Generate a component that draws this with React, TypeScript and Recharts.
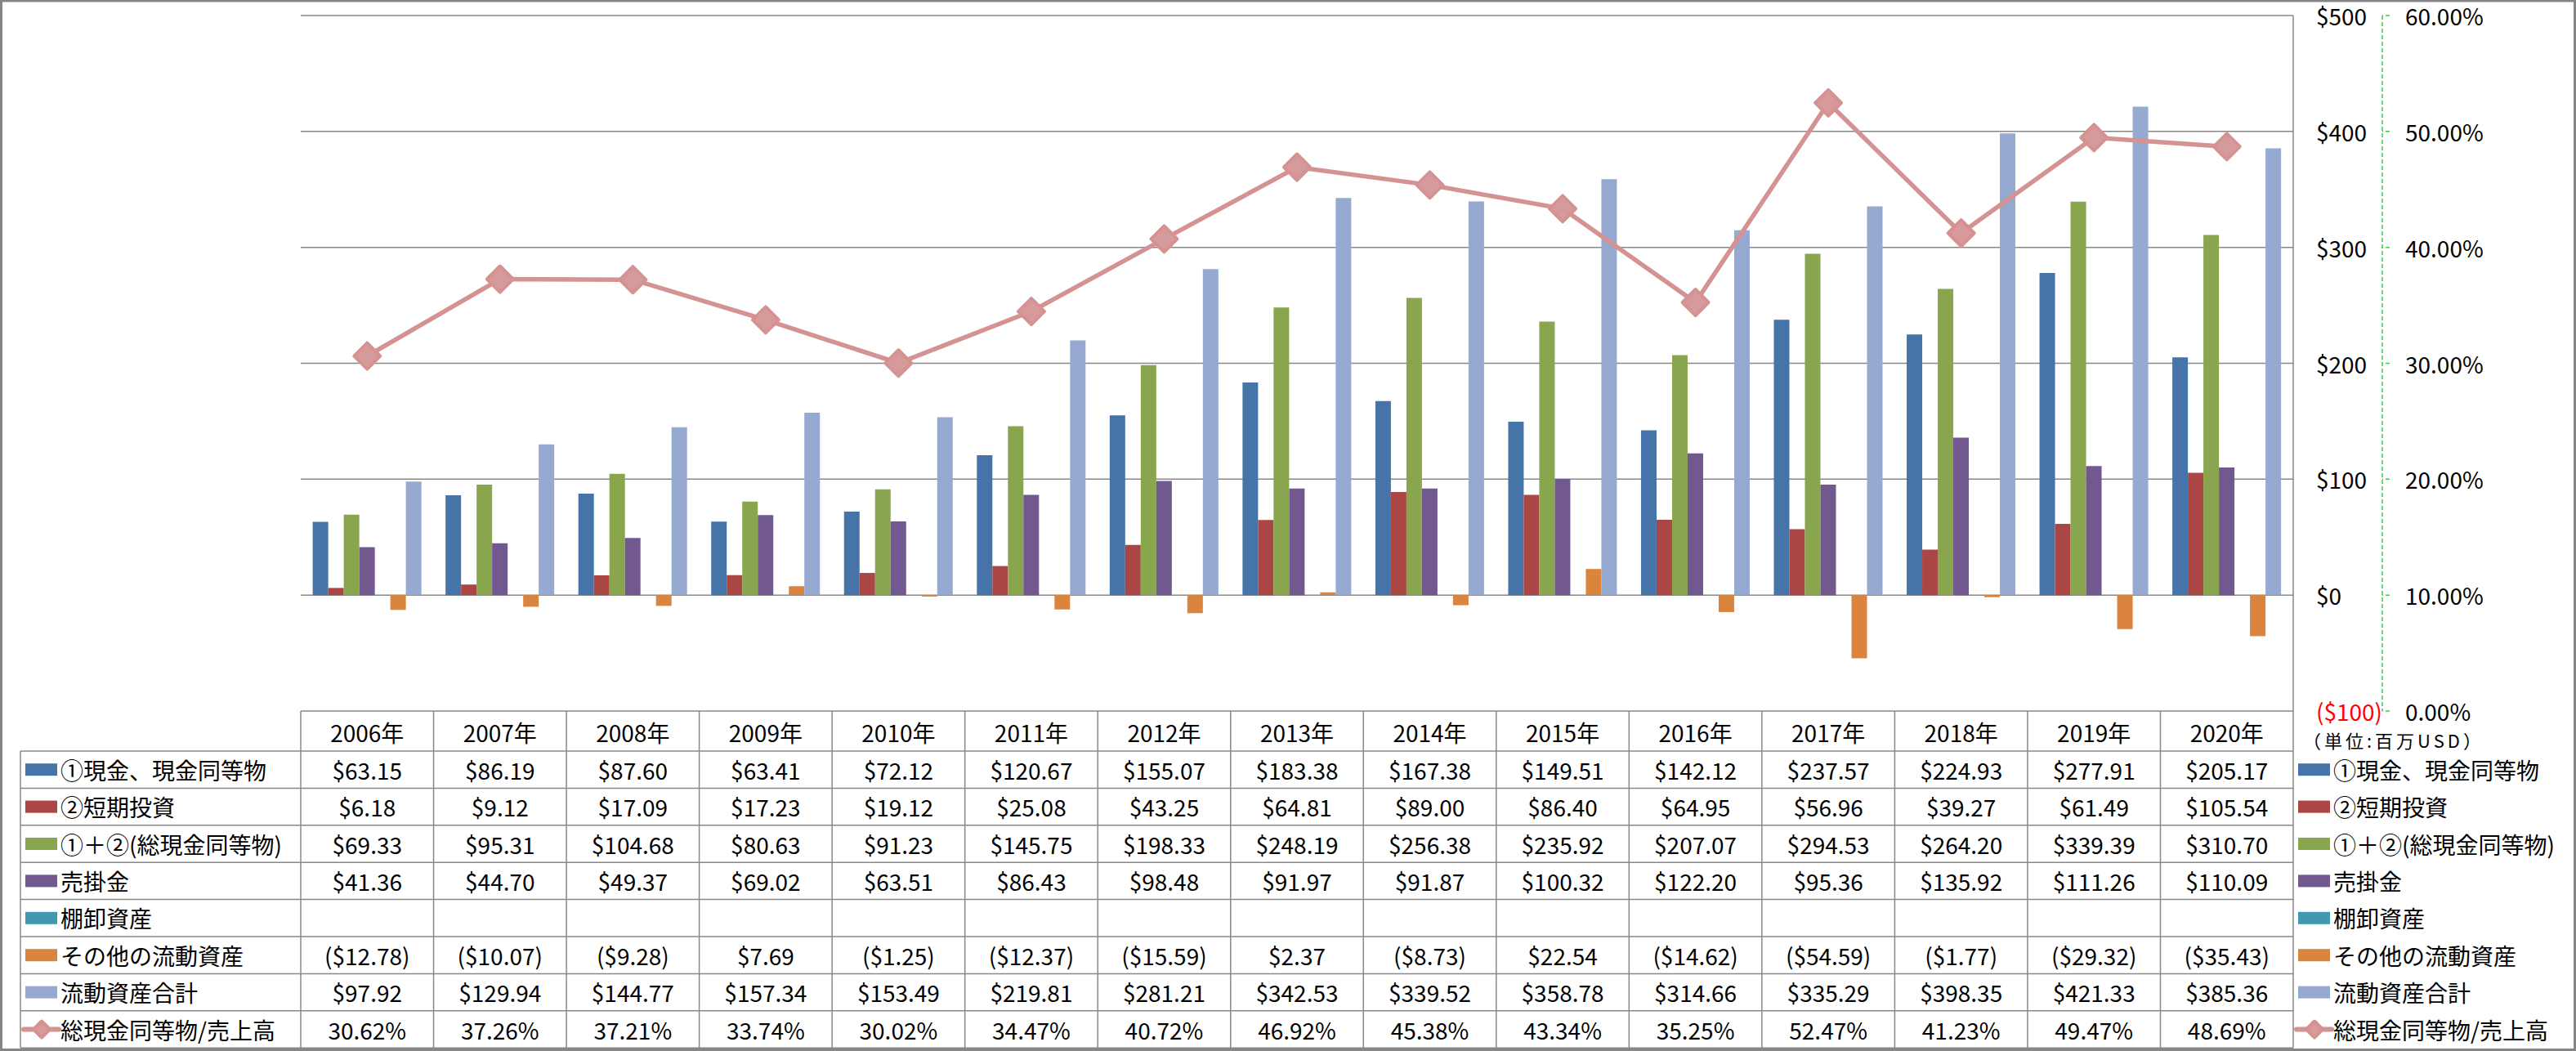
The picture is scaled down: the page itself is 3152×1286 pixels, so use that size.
import { ComposedChart, Bar, Line, XAxis, YAxis, CartesianGrid } from "recharts";

const YEARS = ["2006年", "2007年", "2008年", "2009年", "2010年", "2011年", "2012年", "2013年", "2014年", "2015年", "2016年", "2017年", "2018年", "2019年", "2020年"];
const CASH = [63.15, 86.19, 87.6, 63.41, 72.12, 120.67, 155.07, 183.38, 167.38, 149.51, 142.12, 237.57, 224.93, 277.91, 205.17];
const SHORT_INV = [6.18, 9.12, 17.09, 17.23, 19.12, 25.08, 43.25, 64.81, 89.0, 86.4, 64.95, 56.96, 39.27, 61.49, 105.54];
const TOTAL_CASH = [69.33, 95.31, 104.68, 80.63, 91.23, 145.75, 198.33, 248.19, 256.38, 235.92, 207.07, 294.53, 264.2, 339.39, 310.7];
const RECEIVABLES = [41.36, 44.7, 49.37, 69.02, 63.51, 86.43, 98.48, 91.97, 91.87, 100.32, 122.2, 95.36, 135.92, 111.26, 110.09];
const INVENTORY: (number | null)[] = [null, null, null, null, null, null, null, null, null, null, null, null, null, null, null];
const OTHER = [-12.78, -10.07, -9.28, 7.69, -1.25, -12.37, -15.59, 2.37, -8.73, 22.54, -14.62, -54.59, -1.77, -29.32, -35.43];
const CURRENT_TOTAL = [97.92, 129.94, 144.77, 157.34, 153.49, 219.81, 281.21, 342.53, 339.52, 358.78, 314.66, 335.29, 398.35, 421.33, 385.36];
const RATIO = [30.62, 37.26, 37.21, 33.74, 30.02, 34.47, 40.72, 46.92, 45.38, 43.34, 35.25, 52.47, 41.23, 49.47, 48.69];

const USD_TICKS = [-100, 0, 100, 200, 300, 400, 500];
const PCT_TICKS = [0, 10, 20, 30, 40, 50, 60];

const BARS = [
  { key: "cash", name: "①現金、現金同等物", color: "#4674A8", values: CASH },
  { key: "short", name: "②短期投資", color: "#AA4644", values: SHORT_INV },
  { key: "total", name: "①＋②(総現金同等物)", color: "#89A54E", values: TOTAL_CASH },
  { key: "recv", name: "売掛金", color: "#71588F", values: RECEIVABLES },
  { key: "inv", name: "棚卸資産", color: "#4198AF", values: INVENTORY },
  { key: "other", name: "その他の流動資産", color: "#DB843D", values: OTHER },
  { key: "current", name: "流動資産合計", color: "#95A9D1", values: CURRENT_TOTAL },
];
const LINE = { key: "ratio", name: "総現金同等物/売上高", color: "#D49392", values: RATIO };

const data = YEARS.map((year, i) => {
  const row: Record<string, any> = { year, ratio: RATIO[i] };
  BARS.forEach((b) => (row[b.key] = b.values[i]));
  return row;
});

const W = 3152;
const H = 1286;
const PLOT_L = 368;
const PLOT_R = 2806;
const PLOT_B = 870;
const BAND = (PLOT_R - PLOT_L) / YEARS.length;
const HEAD_B = 919;
const ROW_H = 45.4;
const FONT = "'Noto Sans CJK JP', 'Noto Sans', sans-serif";
const GRID = "#888888";

const usd = (v: number | null) => (v == null ? "" : v < 0 ? `($${(-v).toFixed(2)})` : `$${v.toFixed(2)}`);

const UsdTick = ({ x, y, payload }: any) => (
  <text x={x} y={y} fontSize={28} fontFamily={FONT} dominantBaseline="central" textAnchor="start" fill={payload.value < 0 ? "#FF0000" : "#000"}>
    {payload.value < 0 ? `($${-payload.value})` : `$${payload.value}`}
  </text>
);

const PctTick = ({ x, y, payload }: any) => (
  <text x={x} y={y} fontSize={28} fontFamily={FONT} dominantBaseline="central" textAnchor="start" fill="#000">
    {payload.value.toFixed(2)}%
  </text>
);

const Diamond = ({ cx, cy, r = 16 }: any) => {
  if (cx == null || cy == null) return <g />;
  return (
    <path d={`M${cx},${cy - r}L${cx + r},${cy}L${cx},${cy + r}L${cx - r},${cy}Z`} fill="#D79A9A" stroke={LINE.color} strokeWidth={4} strokeLinejoin="round" />
  );
};

function Key({ x, y, color, line }: { x: number; y: number; color: string; line?: boolean }) {
  if (line) {
    return (
      <g>
        <line x1={x - 2} x2={x + 41} y1={y} y2={y} stroke={color} strokeWidth={6} strokeLinecap="round" />
        <Diamond cx={x + 20} cy={y} r={10} />
      </g>
    );
  }
  return <rect x={x} y={y - 7.5} width={39} height={15} fill={color} />;
}

function DataTable() {
  const rows = [...BARS.map((b) => ({ ...b, line: false, fmt: usd })), { ...LINE, line: true, fmt: (v: number | null) => (v == null ? "" : `${v.toFixed(2)}%`) }];
  const bottom = HEAD_B + ROW_H * rows.length;
  return (
    <svg width={W} height={H} style={{ position: "absolute", left: 0, top: 0, pointerEvents: "none" }} fontFamily={FONT}>
      <rect x={1.5} y={1} width={W - 3} height={H - 2.5} fill="none" stroke="#868686" strokeWidth={3} />
      {/* table grid */}
      {YEARS.map((_, i) => (
        <line key={`v${i}`} x1={PLOT_L + i * BAND} x2={PLOT_L + i * BAND} y1={PLOT_B} y2={bottom} stroke={GRID} strokeWidth={1.5} />
      ))}
      <line x1={PLOT_R} x2={PLOT_R} y1={PLOT_B} y2={bottom} stroke={GRID} strokeWidth={1.5} />
      <line x1={25} x2={25} y1={HEAD_B} y2={bottom} stroke={GRID} strokeWidth={1.5} />
      {rows.map((_, i) => (
        <line key={`h${i}`} x1={25} x2={PLOT_R} y1={HEAD_B + i * ROW_H} y2={HEAD_B + i * ROW_H} stroke={GRID} strokeWidth={1.5} />
      ))}
      <line x1={25} x2={PLOT_R} y1={bottom} y2={bottom} stroke={GRID} strokeWidth={1.5} />
      {YEARS.map((y, i) => (
        <text key={`y${i}`} x={PLOT_L + (i + 0.5) * BAND} y={(PLOT_B + HEAD_B) / 2 + 1} fontSize={28} textAnchor="middle" dominantBaseline="central">{y}</text>
      ))}
      {rows.map((r, ri) => {
        const cy = HEAD_B + (ri + 0.5) * ROW_H;
        return (
          <g key={r.key}>
            <Key x={31} y={cy} color={r.color} line={r.line} />
            <text x={74} y={cy} fontSize={28} dominantBaseline="central">{r.name}</text>
            {r.values.map((v, i) => (
              <text key={i} x={PLOT_L + (i + 0.5) * BAND} y={cy} fontSize={28} textAnchor="middle" dominantBaseline="central">{r.fmt(v)}</text>
            ))}
            <Key x={2812} y={cy} color={r.color} line={r.line} />
            <text x={2855} y={cy} fontSize={28} dominantBaseline="central">{r.name}</text>
          </g>
        );
      })}
      <text x={2818} y={905} fontSize={22} letterSpacing={4} dominantBaseline="central">（単位:百万USD）</text>
    </svg>
  );
}

export default function App() {
  return (
    <div style={{ position: "absolute", left: 0, top: 0, width: W, height: H, background: "#fff", fontFamily: FONT }}>
      <ComposedChart width={W} height={H} data={data} margin={{ top: 19, right: 137, bottom: H - PLOT_B, left: PLOT_L }} barCategoryGap="9%" barGap={0}>
        <CartesianGrid yAxisId="left" horizontal vertical={false} stroke={GRID} strokeWidth={1.5} />
        <XAxis dataKey="year" hide />
        <YAxis yAxisId="left" orientation="right" width={109} domain={[-100, 500]} ticks={USD_TICKS} axisLine={{ stroke: GRID, strokeWidth: 1.5 }} tickLine={false} tickSize={0} tickMargin={28} tick={<UsdTick />} />
        <YAxis yAxisId="right" orientation="right" width={100} domain={[0, 60]} ticks={PCT_TICKS} axisLine={{ stroke: "#2CDC2C", strokeWidth: 1.5, strokeDasharray: "5 3" }} tickLine={{ stroke: "#2CDC2C", strokeWidth: 1.5, strokeDasharray: "5 3" }} tickSize={9} tickMargin={19} tick={<PctTick />} />
        {BARS.map((b) => (
          <Bar key={b.key} yAxisId="left" dataKey={b.key} name={b.name} fill={b.color} isAnimationActive={false} />
        ))}
        <Line yAxisId="right" type="linear" dataKey="ratio" name={LINE.name} stroke={LINE.color} strokeWidth={5.5} dot={(p: any) => <Diamond key={`d${p.index}`} cx={p.cx} cy={p.cy} />} isAnimationActive={false} />
      </ComposedChart>
      <DataTable />
    </div>
  );
}
